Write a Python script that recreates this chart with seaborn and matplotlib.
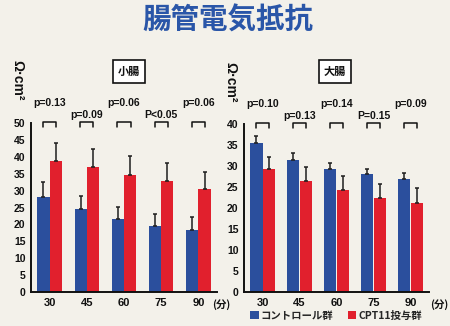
import matplotlib
matplotlib.use("Agg")
import matplotlib.pyplot as plt
import matplotlib.transforms as mtransforms
from matplotlib.patches import Patch
import pandas as pd
import seaborn as sns

# Measurement times (minutes)
times = ["30", "45", "60", "75", "90"]
groups = ["コントロール群", "CPT11投与群"]

# Small intestine: mean and upper SD
small_ctrl = [28.0, 24.7, 21.7, 19.5, 18.2]
small_ctrl_err = [4.4, 3.8, 3.4, 3.6, 3.9]
small_cpt = [38.8, 37.0, 34.7, 32.7, 30.5]
small_cpt_err = [5.2, 5.3, 5.4, 5.6, 4.9]
small_p = ["p=0.13", "p=0.09", "p=0.06", "P<0.05", "p=0.06"]

# Large intestine: mean and upper SD
large_ctrl = [35.4, 31.4, 29.4, 28.1, 27.0]
large_ctrl_err = [1.7, 1.8, 1.4, 1.2, 1.3]
large_cpt = [29.3, 26.4, 24.3, 22.5, 21.3]
large_cpt_err = [2.9, 3.3, 3.3, 3.2, 3.4]
large_p = ["p=0.10", "p=0.13", "p=0.14", "P=0.15", "p=0.09"]

panel_titles = ["小腸", "大腸"]
y_max = [50, 40]

BLUE = "#2b4f9d"
RED = "#e1202d"
BG = "#f3f1ea"
JP = ["Noto Sans CJK JP", "DejaVu Sans"]
LAT = ["Liberation Sans", "Noto Sans CJK JP"]

sns.set_theme(style="white")
plt.rcParams["font.family"] = LAT
plt.rcParams["font.weight"] = "bold"

fig = plt.figure(figsize=(4.5, 3.26), dpi=100, facecolor=BG)
ax_pos = [[31 / 450, 34 / 326, 186 / 450, 169 / 326],
          [244 / 450, 34 / 326, 185 / 450, 168 / 326]]
minute_x = [0.975, 1.005]

panels = [
    (small_ctrl, small_ctrl_err, small_cpt, small_cpt_err, small_p),
    (large_ctrl, large_ctrl_err, large_cpt, large_cpt_err, large_p),
]

for i, (ctrl, ctrl_err, cpt, cpt_err, pvals) in enumerate(panels):
    ax = fig.add_axes(ax_pos[i])
    ax.set_facecolor(BG)
    df = pd.DataFrame({
        "time": times * 2,
        "group": [groups[0]] * len(times) + [groups[1]] * len(times),
        "value": ctrl + cpt,
    })
    sns.barplot(data=df, x="time", y="value", hue="group", hue_order=groups,
                palette=[BLUE, RED], width=0.66, gap=0, errorbar=None,
                legend=False, ax=ax, linewidth=0, saturation=1)
    # upward-only error bars from the bar tops
    for cont, vals, errs in zip(ax.containers, [ctrl, cpt], [ctrl_err, cpt_err]):
        xs = [b.get_x() + b.get_width() / 2 for b in cont]
        ax.errorbar(xs, vals, yerr=[[0] * len(vals), errs], fmt="none",
                    ecolor="#1e1e1e", elinewidth=1.1, capsize=1.5,
                    capthick=1.1, zorder=5)

    ax.set_ylim(0, y_max[i])
    ax.set_xlim(-0.5, len(times) - 0.5)
    ax.set_yticks(range(0, y_max[i] + 1, 5))
    ax.set_xlabel("")
    ax.set_ylabel("")
    for side in ["top", "right"]:
        ax.spines[side].set_visible(False)
    for side in ["left", "bottom"]:
        ax.spines[side].set_color("#111111")
        ax.spines[side].set_linewidth(1.4)
    ax.tick_params(axis="y", length=0, pad=4, labelsize=7.5, colors="#111111")
    ax.tick_params(axis="x", length=0, pad=4, labelsize=8, colors="#111111")
    ax.set_xticks([k + 0.5 for k in range(len(times) - 1)], minor=True)
    ax.tick_params(axis="x", which="minor", length=2, width=1.2,
                   direction="out", color="#111111")
    for lab in ax.get_xticklabels() + ax.get_yticklabels():
        lab.set_fontweight("bold")

    # significance brackets and p-values
    tr = mtransforms.blended_transform_factory(ax.transData, ax.transAxes)
    for k, p in enumerate(pvals):
        hw = 0.18
        ax.plot([k - hw, k - hw, k + hw, k + hw], [0.975, 1.008, 1.008, 0.975],
                color="#111111", lw=1.1, transform=tr, clip_on=False)
        yy = 1.118 if k % 2 == 0 else 1.047
        ax.text(k, yy, p, transform=tr, ha="center", va="center",
                fontsize=7.5, fontweight="bold", color="#111111")

    # unit label and minute label
    ax.text(-0.075, 1.25, "Ω·cm²", transform=ax.transAxes, rotation=-90,
            ha="center", va="center", fontsize=10, fontweight="bold",
            color="#111111", family=LAT)
    ax.text(minute_x[i], -0.075, "(分)", transform=ax.transAxes, ha="left",
            va="center", fontsize=7.5, fontweight="bold", family=JP,
            color="#111111")

    # panel title in a box
    cx = [129 / 450, 335 / 450][i]
    fig.text(cx, 1 - 71 / 326, panel_titles[i], ha="center", va="center",
             fontsize=8, fontweight="bold", family=JP, color="#111111",
             bbox=dict(boxstyle="square,pad=0.45", fc="white", ec="#111111", lw=1.2))

fig.text(228 / 450, 1 - 21 / 326, "腸管電気抵抗", ha="center", va="center",
         fontsize=20.5, fontweight="bold", family=JP, color="#2a56a8")

handles = [Patch(facecolor=BLUE, edgecolor="none"), Patch(facecolor=RED, edgecolor="none")]
leg = fig.legend(handles, groups, loc="center", bbox_to_anchor=(336 / 450, 1 - 316 / 326),
                 ncol=2, frameon=False, handlelength=0.8, handleheight=0.8,
                 handletextpad=0.2, columnspacing=1.4, borderaxespad=0,
                 prop={"family": JP, "weight": "bold", "size": 7.5})

fig.savefig("out.png", dpi=100, facecolor=BG)
